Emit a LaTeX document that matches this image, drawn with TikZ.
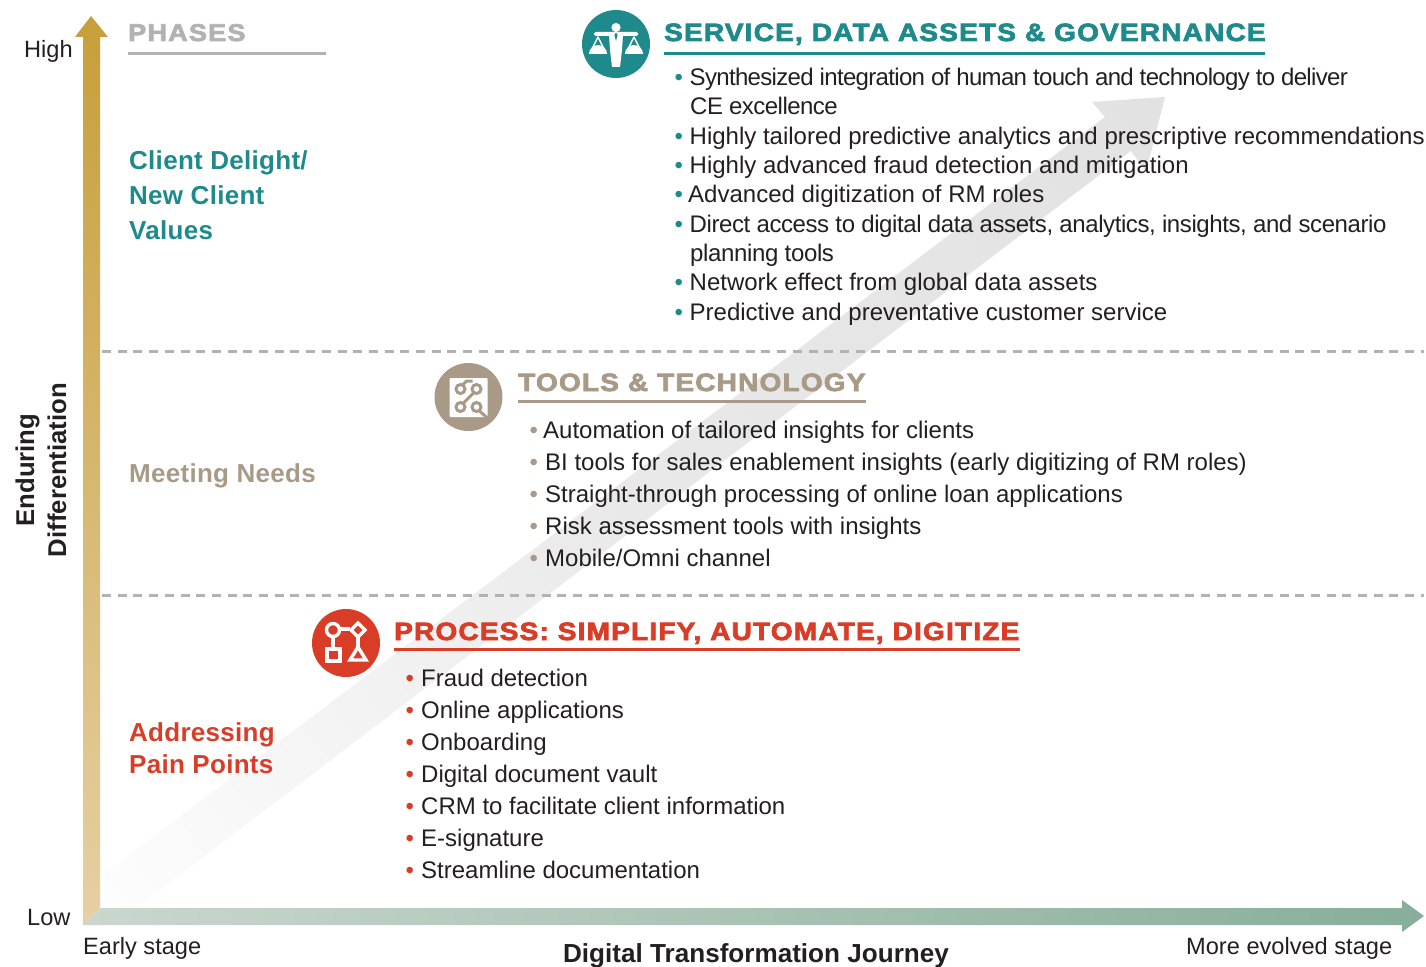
\documentclass[tikz,border=0pt]{standalone}
\usepackage{fontspec}
\setmainfont{Liberation Sans}
\newfontfamily\headf[BoldFeatures={FakeBold=3,FakeStretch=1.12,LetterSpace=4.8}]{Liberation Sans}
\newfontfamily\labf[BoldFeatures={LetterSpace=1.1}]{Liberation Sans}
\definecolor{teal}{HTML}{1F8A8C}
\definecolor{tan}{HTML}{A89A86}
\definecolor{redc}{HTML}{D93C27}
\definecolor{ink}{HTML}{231F20}
\definecolor{graya}{HTML}{B2B2B2}
\definecolor{goldtop}{HTML}{C79E3A}
\definecolor{goldbot}{HTML}{E6D0A3}
\definecolor{greenl}{HTML}{CAD7CE}
\definecolor{greenr}{HTML}{87AE9B}
\definecolor{dga}{HTML}{FFFFFF}
\definecolor{dgb}{HTML}{F4F4F4}
\definecolor{dgc}{HTML}{E9E9E9}
\definecolor{dgd}{HTML}{E2E2E2}
\pgfdeclareverticalshading{diagsh}{100bp}{color(0bp)=(dga);color(12bp)=(dga);color(30bp)=(dgb);color(50bp)=(dgc);color(85bp)=(dgd);color(100bp)=(dgd)}
\newcounter{itm}
\newcommand{\itm}[5]{\stepcounter{itm}%
  \node[bodytxt,text=#1] (bu\theitm) at (#2,#4) {\textbullet};
  \node[bodytxt] (tx\theitm) at (#3,#4) {#5};}
\tikzset{
  bodytxt/.style={anchor=base west,inner sep=0pt,text=ink,font=\fontsize{24}{28}\selectfont},
  labtxt/.style={anchor=base west,inner sep=0pt,text=ink,font=\fontsize{23.6}{28}\selectfont},
  headtxt/.style={anchor=base west,inner sep=0pt,font=\fontsize{25}{28}\selectfont\headf\bfseries},
  phasetxt/.style={anchor=base west,inner sep=0pt,font=\fontsize{26}{30}\selectfont\labf\bfseries},
  axistxt/.style={inner sep=0pt,text=ink,font=\fontsize{25.7}{28}\selectfont\bfseries},
  jrntxt/.style={inner sep=0pt,text=ink,font=\fontsize{26.1}{28}\selectfont\bfseries},
  rulelane/.style={line width=3pt},
  lanedash/.style={draw=graya,line width=3pt,dash pattern=on 9pt off 6.7pt},
}
\begin{document}
\begin{tikzpicture}[x=1pt,y=-1pt]
\useasboundingbox (0,0) rectangle (1426,966);
% diagonal arrow
\shade[shading=diagsh,shading angle=-53]
  (100,877) -- (1105,117) -- (1092,102) -- (1165,97) -- (1146,172) -- (1131,151) -- (138,907) -- (100,907) -- cycle;
% dashed lanes
\draw[lanedash] (102,351) -- (1424,351);
\draw[lanedash] (102,595) -- (1424,595);
% axes
\shade[top color=goldtop,bottom color=goldbot]
  (91,16) -- (108,37) -- (100,37) -- (100,908) -- (83,925) -- (83,37) -- (75,37) -- cycle;
\shade[left color=greenl,right color=greenr]
  (100,908) -- (1402,908) -- (1402,900) -- (1424,916) -- (1402,932) -- (1402,925) -- (83,925) -- cycle;
% axis labels
\node[labtxt] (high) at (24,57) {High};
\node[labtxt] (low) at (27,925) {Low};
\node[labtxt] (early) at (83,954) {Early stage};
\node[labtxt] (late) at (1186,954) {More evolved stage};
\node[jrntxt,anchor=base] (journey) at (756,962) {Digital Transformation Journey};
\node[axistxt,rotate=90,anchor=base] (yl1) at (34,470) {Enduring};
\node[axistxt,rotate=90,anchor=base] (yl2) at (66,470) {Differentiation};
% phases
\node[headtxt,text=graya,font=\fontsize{24.2}{28}\selectfont\headf\bfseries] (phases) at (128,41) {PHASES};
\draw[graya,rulelane] (128,53.5) -- (326,53.5);
\node[phasetxt,text=teal] (p1a) at (129,169) {Client Delight/};
\node[phasetxt,text=teal] (p1b) at (129,204) {New Client};
\node[phasetxt,text=teal] (p1c) at (129,239) {Values};
\node[phasetxt,text=tan] (p2) at (129,482) {Meeting Needs};
\node[phasetxt,text=redc] (p3a) at (129,741) {Addressing};
\node[phasetxt,text=redc] (p3b) at (129,773) {Pain Points};
% service
\fill[teal] (616,44) circle (34);
\begin{scope}[shift={(616,44)}]
  \fill[white] (0,-16.5) circle (4.6);
  \fill[white,rounded corners=1.5pt] (-22,-12) rectangle (22,-8);
  \fill[white] (-7,-10) -- (7,-10) -- (6,6) -- (4,23) -- (-4,23) -- (-6,6) -- cycle;
  \fill[teal] (0,-11.5) -- (1.6,-9) -- (0,-3) -- (-1.6,-9) -- cycle;
  \draw[white,line width=1.4pt,line join=round] (-26,9) -- (-18,-7) -- (-10,9);
  \draw[white,line width=1.4pt,line join=round] (26,9) -- (18,-7) -- (10,9);
  \fill[white] (-27,10) arc[start angle=180,end angle=360,radius=9];
  \fill[white] (9,10) arc[start angle=180,end angle=360,radius=9];
\end{scope}
\node[headtxt,text=teal] (h1) at (664,41) {SERVICE, DATA ASSETS \& GOVERNANCE};
\draw[teal,rulelane] (664,53.5) -- (1265,53.5);
\itm{teal}{674.5}{689.5}{85}{\addfontfeature{LetterSpace=-2.8}Synthesized integration of human touch and technology to deliver}
\node[bodytxt] (c1) at (690,114) {\addfontfeature{LetterSpace=-2.2}CE excellence};
\itm{teal}{674.5}{689.5}{144}{Highly tailored predictive analytics and prescriptive recommendations}
\itm{teal}{674.5}{689.5}{173}{Highly advanced fraud detection and mitigation}
\itm{teal}{674.5}{688}{202}{Advanced digitization of RM roles}
\itm{teal}{674.5}{689.5}{232}{\addfontfeature{LetterSpace=-1.7}Direct access to digital data assets, analytics, insights, and scenario}
\node[bodytxt] (c2) at (690,261) {\addfontfeature{LetterSpace=-1.5}planning tools};
\itm{teal}{674.5}{689.5}{290}{Network effect from global data assets}
\itm{teal}{674.5}{689.5}{320}{Predictive and preventative customer service}
% tools
\fill[tan] (468.5,397) circle (34);
\begin{scope}[shift={(468.5,397)}]
  \fill[white,rounded corners=1pt] (-19,-19) rectangle (19,20);
  \draw[tan,line width=3pt] (-8,-8) circle (4.5);
  \draw[tan,line width=3pt] (8,-8) circle (4.5);
  \draw[tan,line width=3pt] (-8,10) circle (4.5);
  \draw[tan,line width=3pt] (8,10) circle (4.5);
  \draw[tan,line width=3pt] (-6,-12) -- (-2,-16) -- (4,-16);
  \draw[tan,line width=3pt] (5,-4) -- (-5,6);
  \draw[tan,line width=3pt] (11,14) -- (19,21);
\end{scope}
\node[headtxt,text=tan] (h2) at (518,391) {TOOLS \& TECHNOLOGY};
\draw[tan,rulelane] (518,401) -- (866,401);
\itm{tan}{529.5}{543}{438}{Automation of tailored insights for clients}
\itm{tan}{529.5}{545}{470}{BI tools for sales enablement insights (early digitizing of RM roles)}
\itm{tan}{529.5}{545}{502}{Straight-through processing of online loan applications}
\itm{tan}{529.5}{545}{534}{Risk assessment tools with insights}
\itm{tan}{529.5}{545}{566}{Mobile/Omni channel}
% process
\fill[redc] (346,643) circle (34);
\begin{scope}[shift={(346,643)}]
  \draw[white,line width=3.4pt] (-13,-13) circle (6.5);
  \draw[white,line width=3.4pt] (-6,-14) -- (4,-14);
  \draw[white,line width=3.4pt] (12,-20) -- (19,-13) -- (12,-6) -- (5,-13) -- cycle;
  \draw[white,line width=3.4pt] (-19,6) rectangle (-6,18);
  \draw[white,line width=3.4pt] (-13,-6) -- (-13,6);
  \draw[white,line width=3.4pt] (12,-6) -- (12,4);
  \draw[white,line width=3.4pt] (12,4) -- (20,17) -- (4,17) -- cycle;
\end{scope}
\node[headtxt,text=redc] (h3) at (394,640) {PROCESS: SIMPLIFY, AUTOMATE, DIGITIZE};
\draw[redc,rulelane] (394,649.5) -- (1020,649.5);
\itm{redc}{405.5}{421}{686}{Fraud detection}
\itm{redc}{405.5}{421}{718}{Online applications}
\itm{redc}{405.5}{421}{750}{Onboarding}
\itm{redc}{405.5}{421}{782}{Digital document vault}
\itm{redc}{405.5}{421}{814}{CRM to facilitate client information}
\itm{redc}{405.5}{421}{846}{E-signature}
\itm{redc}{405.5}{421}{878}{Streamline documentation}
\end{tikzpicture}
\end{document}
